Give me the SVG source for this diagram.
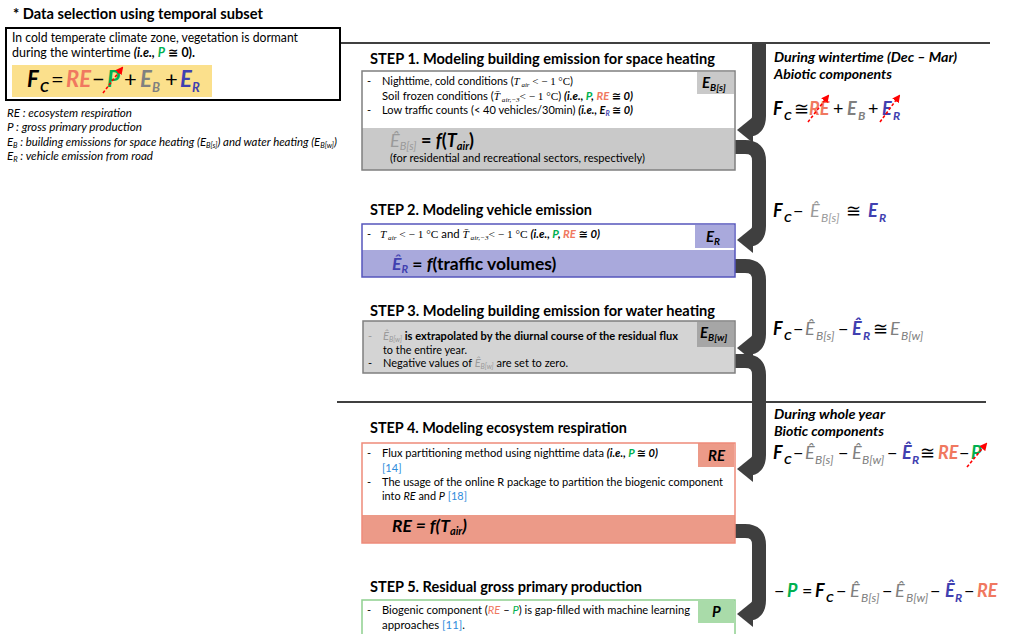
<svg xmlns="http://www.w3.org/2000/svg" width="1009" height="634" viewBox="0 0 1009 634">
<style>
text{font-family:Lato,'Liberation Sans','DejaVu Sans',sans-serif;fill:#000}
.ttl{font-size:16px;font-weight:700}
.bt{font-size:11px}
.b{font-weight:700}
.it{font-style:italic}
.bi{font-weight:700;font-style:italic}
.n{font-weight:400;font-style:normal}
.sr{font-family:'Liberation Serif','DejaVu Serif',serif}
.re{fill:#F07860}
.p{fill:#00B050}
.eb{fill:#808080}
.er{fill:#4040B0}
.hat{fill:#9A9A9A}
.cite{fill:#2E8BDB}
.lab{font-size:15px;font-weight:700;font-style:italic}
.strike{stroke:#FF0000;stroke-width:1.6;stroke-dasharray:3 2;fill:none}
.conn{stroke:#3F3F3F;stroke-width:14;fill:none}
</style>
<defs>
<marker id="ah" viewBox="0 0 16 26" refX="6" refY="13" markerWidth="16" markerHeight="26" markerUnits="userSpaceOnUse" orient="auto">
<path d="M0,0 L16,13 L0,26 z" fill="#3F3F3F"/>
</marker>
<marker id="rh" viewBox="0 0 8 8" refX="6" refY="4" markerWidth="8" markerHeight="8" markerUnits="userSpaceOnUse" orient="auto">
<path d="M0,0 L8,4 L0,8 z" fill="#FF0000"/>
</marker>
</defs>
<rect width="1009" height="634" fill="#fff"/>

<!-- separator lines -->
<g id="lines" stroke="#000" stroke-width="1.6">
<line x1="340" y1="43" x2="990" y2="43"/>
<line x1="337" y1="402" x2="986" y2="402"/>
</g>

<!-- Data selection panel -->
<g id="data-selection">
<text class="ttl" x="13" y="19" textLength="250" lengthAdjust="spacingAndGlyphs">* Data selection using temporal subset</text>
<rect x="6" y="28" width="334" height="72" fill="#fff" stroke="#000" stroke-width="2"/>
<text x="12" y="42" font-size="12.5" textLength="286" lengthAdjust="spacingAndGlyphs">In cold temperate climate zone, vegetation is dormant</text>
<text x="12" y="57" font-size="12.5" textLength="183" lengthAdjust="spacingAndGlyphs">during the wintertime <tspan class="bi">(i.e., </tspan><tspan class="bi p">P</tspan><tspan class="b"> ≅ 0).</tspan></text>
<rect x="12" y="65" width="200" height="32" fill="#FBE08C"/>
<text class="bi" font-size="22">
<tspan x="27" y="87">F</tspan><tspan x="40" y="92" font-size="14">C</tspan>
<tspan x="51" y="87" class="n b">=</tspan>
<tspan x="66" y="87" class="re">RE</tspan>
<tspan x="92" y="87" class="n b">−</tspan>
<tspan x="107" y="87" class="p">P</tspan>
<tspan x="124" y="87" class="n b">+</tspan>
<tspan x="140" y="87" class="eb">E</tspan><tspan x="152" y="92" font-size="13" class="eb">B</tspan>
<tspan x="165" y="87" class="n b">+</tspan>
<tspan x="180" y="87" class="er">E</tspan><tspan x="192" y="92" font-size="13" class="er">R</tspan>
</text>
<line class="strike" x1="103" y1="93" x2="122" y2="68" stroke-dasharray="none" marker-end="url(#rh)"/>
</g>

<!-- legend -->
<g id="legend">
<text class="it" x="7" y="117" font-size="11.5" textLength="125" lengthAdjust="spacingAndGlyphs">RE : ecosystem respiration</text>
<text class="it" x="7" y="131" font-size="11.5" textLength="135" lengthAdjust="spacingAndGlyphs">P : gross primary production</text>
<text class="it" x="7" y="146" font-size="11.5" textLength="330" lengthAdjust="spacingAndGlyphs">E<tspan font-size="7.5" dy="2">B</tspan><tspan dy="-2"> : building emissions for space heating (E</tspan><tspan font-size="7.5" dy="2">B[s]</tspan><tspan dy="-2">) and water heating (E</tspan><tspan font-size="7.5" dy="2">B[w]</tspan><tspan dy="-2">)</tspan></text>
<text class="it" x="7" y="160" font-size="11.5" textLength="146" lengthAdjust="spacingAndGlyphs">E<tspan font-size="7.5" dy="2">R</tspan><tspan dy="-2"> : vehicle emission from road</tspan></text>
</g>

<!-- connectors -->
<g id="connectors">
<path class="conn" d="M759,43 V116 Q759,130 747,130" marker-end="url(#ah)"/>
<path class="conn" d="M734,147 H745 Q759,147 759,161 V226 Q759,240 747,240" marker-end="url(#ah)"/>
<path class="conn" d="M734,266 H745 Q759,266 759,280 V334 Q759,348 747,348" marker-end="url(#ah)"/>
<path class="conn" d="M734,361 H745 Q759,361 759,375 V455 Q759,469 747,469" marker-end="url(#ah)"/>
<path class="conn" d="M734,531 H745 Q759,531 759,545 V600 Q759,614 747,614" marker-end="url(#ah)"/>
</g>

<!-- STEP 1 -->
<g id="step1">
<text class="ttl" x="370" y="64" textLength="345" lengthAdjust="spacingAndGlyphs">STEP 1. Modeling building emission for space heating</text>
<rect x="362" y="71" width="373" height="57" fill="#fff"/>
<rect x="362" y="128" width="373" height="42" fill="#C9C9C9"/>
<rect x="697" y="72" width="37" height="22" fill="#C9C9C9"/>
<rect x="362" y="71" width="373" height="99" fill="none" stroke="#7F7F7F" stroke-width="1.5"/>
<text class="lab" x="702" y="88">E<tspan font-size="10" dy="3">B[s]</tspan></text>
<text class="bt" x="367" y="85">-</text>
<text class="bt" x="382" y="85" textLength="191" lengthAdjust="spacingAndGlyphs">Nighttime, cold conditions (<tspan class="sr it">T</tspan><tspan class="sr it" font-size="7" dy="2"> air</tspan><tspan class="sr" dy="-2"> &lt; − 1 °C</tspan>)</text>
<text class="bt" x="382" y="100" textLength="251" lengthAdjust="spacingAndGlyphs">Soil frozen conditions (<tspan class="sr it">T̄</tspan><tspan class="sr it" font-size="7" dy="2"> air,−3</tspan><tspan class="sr" dy="-2">&lt; − 1 °C</tspan>) <tspan class="bi">(i.e., </tspan><tspan class="bi p">P</tspan><tspan class="bi">, </tspan><tspan class="bi re">RE</tspan><tspan class="bi"> ≅ 0)</tspan></text>
<text class="bt" x="367" y="114">-</text>
<text class="bt" x="382" y="114" textLength="251" lengthAdjust="spacingAndGlyphs">Low traffic counts (&lt; 40 vehicles/30min) <tspan class="bi">(i.e., E</tspan><tspan class="bi er" font-size="7" dy="2">R</tspan><tspan class="bi" dy="-2"> ≅ 0)</tspan></text>
<text x="390" y="147" font-size="18"><tspan class="it hat">Ê</tspan><tspan class="it hat" font-size="11" dy="3">B[s]</tspan><tspan class="b" dy="-3"> = </tspan><tspan class="bi">f</tspan><tspan class="b">(</tspan><tspan class="bi">T</tspan><tspan class="bi" font-size="11" dy="3">air</tspan><tspan class="b" dy="-3">)</tspan></text>
<text x="390" y="162" font-size="11.5" textLength="255" lengthAdjust="spacingAndGlyphs">(for residential and recreational sectors, respectively)</text>
</g>

<!-- STEP 2 -->
<g id="step2">
<text class="ttl" x="370" y="215" textLength="222" lengthAdjust="spacingAndGlyphs">STEP 2. Modeling vehicle emission</text>
<rect x="362" y="224" width="373" height="26" fill="#fff"/>
<rect x="362" y="250" width="373" height="27" fill="#A9A9DC"/>
<rect x="695" y="225" width="39" height="23" fill="#A9A9DC"/>
<rect x="362" y="224" width="373" height="53" fill="none" stroke="#5656BC" stroke-width="1.5"/>
<text class="lab" x="706" y="242">E<tspan font-size="10" dy="3">R</tspan></text>
<text class="bt" x="367" y="238">-</text>
<text class="bt" x="380" y="238" textLength="220" lengthAdjust="spacingAndGlyphs"><tspan class="sr it">T</tspan><tspan class="sr it" font-size="7" dy="2"> air</tspan><tspan class="sr" dy="-2"> &lt; − 1 °C</tspan> and <tspan class="sr it">T̄</tspan><tspan class="sr it" font-size="7" dy="2"> air,−3</tspan><tspan class="sr" dy="-2">&lt; − 1 °C</tspan> <tspan class="bi">(i.e., </tspan><tspan class="bi p">P</tspan><tspan class="bi">, </tspan><tspan class="bi re">RE</tspan><tspan class="bi"> ≅ 0)</tspan></text>
<text x="392" y="270" font-size="17.5" class="b"><tspan class="it er">Ê</tspan><tspan class="it er" font-size="11" dy="3">R</tspan><tspan dy="-3"> = </tspan><tspan class="it">f</tspan>(traffic volumes)</text>
</g>

<!-- STEP 3 -->
<g id="step3">
<text class="ttl" x="370" y="316" textLength="345" lengthAdjust="spacingAndGlyphs">STEP 3. Modeling building emission for water heating</text>
<rect x="363" y="321" width="372" height="52" fill="#D4D4D4" stroke="#7F7F7F" stroke-width="1.5"/>
<rect x="697" y="322" width="37" height="25" fill="#A6A6A6"/>
<text class="lab" x="700" y="338">E<tspan font-size="10" dy="3">B[w]</tspan></text>
<text class="bt hat" x="368" y="340">-</text>
<text class="bt" x="383" y="340" textLength="295" lengthAdjust="spacingAndGlyphs"><tspan class="it hat">Ê</tspan><tspan class="it hat" font-size="7" dy="2">B[w]</tspan><tspan class="b" dy="-2"> is extrapolated by the diurnal course of the residual flux</tspan></text>
<text class="bt" x="383" y="354" textLength="84" lengthAdjust="spacingAndGlyphs">to the entire year.</text>
<text class="bt" x="368" y="367">-</text>
<text class="bt" x="383" y="367" textLength="185" lengthAdjust="spacingAndGlyphs">Negative values of <tspan class="it hat">Ê</tspan><tspan class="it hat" font-size="7" dy="2">B[w]</tspan><tspan dy="-2"> are set to zero.</tspan></text>
</g>

<!-- STEP 4 -->
<g id="step4">
<text class="ttl" x="370" y="433" textLength="257" lengthAdjust="spacingAndGlyphs">STEP 4. Modeling ecosystem respiration</text>
<rect x="362" y="443" width="373" height="72" fill="#fff"/>
<rect x="362" y="515" width="373" height="28" fill="#EC9A88"/>
<rect x="698" y="443" width="36" height="24" fill="#EC9A88"/>
<rect x="362" y="443" width="373" height="100" fill="none" stroke="#EE8B7A" stroke-width="1.5"/>
<text class="lab" x="708" y="461">RE</text>
<text class="bt" x="367" y="457">-</text>
<text class="bt" x="382" y="457" textLength="276" lengthAdjust="spacingAndGlyphs">Flux partitioning method using nighttime data <tspan class="bi">(i.e., </tspan><tspan class="bi p">P</tspan><tspan class="bi"> ≅ 0)</tspan></text>
<text class="bt cite" x="382" y="472">[14]</text>
<text class="bt" x="367" y="486">-</text>
<text class="bt" x="382" y="486" textLength="341" lengthAdjust="spacingAndGlyphs">The usage of the online R package to partition the biogenic component</text>
<text class="bt" x="382" y="500" textLength="85" lengthAdjust="spacingAndGlyphs">into <tspan class="it">RE</tspan> and <tspan class="it">P</tspan> <tspan class="cite">[18]</tspan></text>
<text x="392" y="532" font-size="17.5" class="bi">RE = f(T<tspan font-size="11" dy="3">air</tspan><tspan dy="-3">)</tspan></text>
</g>

<!-- STEP 5 -->
<g id="step5">
<text class="ttl" x="370" y="592" textLength="272" lengthAdjust="spacingAndGlyphs">STEP 5. Residual gross primary production</text>
<rect x="362" y="600" width="373" height="40" fill="#fff" stroke="#8FD08F" stroke-width="1.5"/>
<rect x="698" y="601" width="36" height="22" fill="#A9DBA9"/>
<text class="lab" x="712" y="617">P</text>
<text class="bt" x="367" y="614">-</text>
<text class="bt" x="382" y="614" textLength="308" lengthAdjust="spacingAndGlyphs">Biogenic component (<tspan class="it re">RE</tspan> –  <tspan class="it p">P</tspan>) is gap-filled with machine learning</text>
<text class="bt" x="382" y="629" textLength="83" lengthAdjust="spacingAndGlyphs">approaches <tspan class="cite">[11]</tspan>.</text>
</g>

<!-- right-hand equations -->
<g id="wintertime">
<text class="bi" x="774" y="62" font-size="13.5" textLength="183" lengthAdjust="spacingAndGlyphs">During wintertime (Dec – Mar)</text>
<text class="bi" x="774" y="79" font-size="13.5" textLength="118" lengthAdjust="spacingAndGlyphs">Abiotic components</text>
<text class="bi" font-size="18">
<tspan x="773" y="115">F</tspan><tspan x="784" y="120" font-size="12">C</tspan>
<tspan x="794" y="115" class="n">≅</tspan>
<tspan x="809" y="115" class="re">RE</tspan>
<tspan x="833" y="115" class="n b">+</tspan>
<tspan x="847" y="115" class="eb">E</tspan><tspan x="858" y="120" font-size="12" class="eb">B</tspan>
<tspan x="868" y="115" class="n b">+</tspan>
<tspan x="882" y="115" class="er">E</tspan><tspan x="893" y="120" font-size="12" class="er">R</tspan>
</text>
<line class="strike" x1="808" y1="122" x2="828" y2="96" marker-end="url(#rh)"/>
<line class="strike" x1="880" y1="122" x2="899" y2="96" marker-end="url(#rh)"/>
</g>

<g id="eq-step2">
<text class="bi" font-size="18">
<tspan x="773" y="217">F</tspan><tspan x="784" y="222" font-size="12">C</tspan>
<tspan x="793" y="217" class="n b">−</tspan>
<tspan x="810" y="217" class="hat" font-weight="400">Ê</tspan><tspan x="821" y="222" font-size="12" class="hat" font-weight="400">B[s]</tspan>
<tspan x="846" y="217" class="n">≅</tspan>
<tspan x="868" y="217" class="er">E</tspan><tspan x="879" y="222" font-size="12" class="er">R</tspan>
</text>
</g>

<g id="eq-step3">
<text class="bi" font-size="18">
<tspan x="773" y="335">F</tspan><tspan x="784" y="340" font-size="12">C</tspan>
<tspan x="793" y="335" class="n b">−</tspan>
<tspan x="805" y="335" class="eb" font-weight="400">Ê</tspan><tspan x="816" y="340" font-size="12" class="eb" font-weight="400">B[s]</tspan>
<tspan x="838" y="335" class="n b">−</tspan>
<tspan x="852" y="335" class="er">Ê</tspan><tspan x="863" y="340" font-size="12" class="er">R</tspan>
<tspan x="873" y="335" class="n">≅</tspan>
<tspan x="890" y="335" class="eb" font-weight="400">E</tspan><tspan x="901" y="340" font-size="12" class="eb" font-weight="400">B[w]</tspan>
</text>
</g>

<g id="wholeyear">
<text class="bi" x="774" y="419" font-size="13.5" textLength="111" lengthAdjust="spacingAndGlyphs">During whole year</text>
<text class="bi" x="774" y="436" font-size="13.5" textLength="110" lengthAdjust="spacingAndGlyphs">Biotic components</text>
<text class="bi" font-size="18">
<tspan x="773" y="459">F</tspan><tspan x="784" y="464" font-size="12">C</tspan>
<tspan x="793" y="459" class="n b">−</tspan>
<tspan x="805" y="459" class="eb" font-weight="400">Ê</tspan><tspan x="815" y="464" font-size="12" class="eb" font-weight="400">B[s]</tspan>
<tspan x="838" y="459" class="n b">−</tspan>
<tspan x="852" y="459" class="eb" font-weight="400">Ê</tspan><tspan x="862" y="464" font-size="12" class="eb" font-weight="400">B[w]</tspan>
<tspan x="887" y="459" class="n b">−</tspan>
<tspan x="902" y="459" class="er">Ê</tspan><tspan x="912" y="464" font-size="12" class="er">R</tspan>
<tspan x="920" y="459" class="n">≅</tspan>
<tspan x="938" y="459" class="re">RE</tspan>
<tspan x="959" y="459" class="n b">−</tspan>
<tspan x="971" y="459" class="p">P</tspan>
</text>
<line class="strike" x1="967" y1="467" x2="986" y2="444" marker-end="url(#rh)"/>
</g>

<g id="eq-step5">
<text class="bi" font-size="18">
<tspan x="774" y="597" class="n b">−</tspan>
<tspan x="787" y="597" class="p">P</tspan>
<tspan x="802" y="597" class="n b">=</tspan>
<tspan x="815" y="597">F</tspan><tspan x="826" y="602" font-size="12">C</tspan>
<tspan x="836" y="597" class="n b">−</tspan>
<tspan x="850" y="597" class="eb" font-weight="400">Ê</tspan><tspan x="861" y="602" font-size="12" class="eb" font-weight="400">B[s]</tspan>
<tspan x="882" y="597" class="n b">−</tspan>
<tspan x="895" y="597" class="eb" font-weight="400">Ê</tspan><tspan x="906" y="602" font-size="12" class="eb" font-weight="400">B[w]</tspan>
<tspan x="930" y="597" class="n b">−</tspan>
<tspan x="945" y="597" class="er">Ê</tspan><tspan x="955" y="602" font-size="12" class="er">R</tspan>
<tspan x="964" y="597" class="n b">−</tspan>
<tspan x="977" y="597" class="re">RE</tspan>
</text>
</g>
</svg>
